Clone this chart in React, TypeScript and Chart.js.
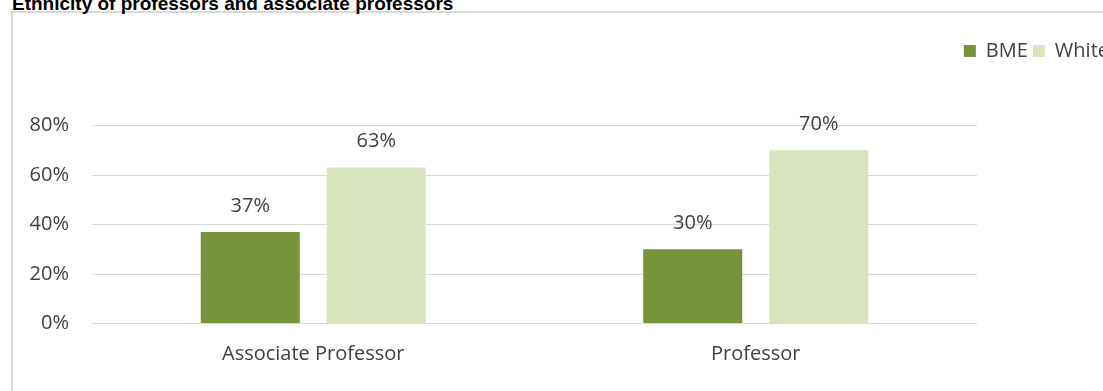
import React, { useEffect, useRef } from "react";
import { Chart, registerables } from "chart.js";

Chart.register(...registerables);

const categories = ["Associate Professor", "Professor"];
const bmeValues = [37, 30];
const whiteValues = [63, 70];
const yTickValues = [0, 20, 40, 60, 80];
const seriesNames = ["BME", "White"];
const titleText = "Ethnicity of professors and associate professors";

const CANVAS_W = 1114;
const CANVAS_H = 391;
const PLOT_LEFT = 92;
const PLOT_RIGHT = 977;
const PLOT_TOP = 125.5;
const PLOT_BOTTOM = 323.5;
const LEGEND_PAD_TOP = 36;
const TEXT_COLOR = "#404040";
const FONT = { family: '"Open Sans", "Noto Sans", sans-serif', size: 20 };

const legendSpacing = {
  id: "legendSpacing",
  beforeLayout(chart: any) {
    const lg = chart.legend;
    if (lg && !lg.__patched) {
      const orig = lg.fit;
      lg.fit = function () {
        orig.call(this);
        this.height = PLOT_TOP - LEGEND_PAD_TOP;
      };
      lg.__patched = true;
    }
  },
};

const dataLabels = {
  id: "dataLabels",
  afterDatasetsDraw(chart: any) {
    const ctx = chart.ctx;
    ctx.save();
    ctx.font = `${FONT.size}px ${FONT.family}`;
    ctx.fillStyle = TEXT_COLOR;
    ctx.textAlign = "center";
    ctx.textBaseline = "middle";
    chart.data.datasets.forEach((ds: any, i: number) => {
      const meta = chart.getDatasetMeta(i);
      meta.data.forEach((el: any, j: number) => {
        ctx.fillText(`${ds.data[j]}%`, el.x, el.y - 26);
      });
    });
    ctx.restore();
  },
};

export default function App() {
  const ref = useRef<HTMLCanvasElement>(null);
  useEffect(() => {
    if (!ref.current) return;
    const chart = new Chart(ref.current, {
      type: "bar",
      data: {
        labels: categories,
        datasets: [
          {
            label: seriesNames[0],
            data: bmeValues,
            backgroundColor: "#77933c",
            categoryPercentage: 0.5695,
            barPercentage: 0.786,
            yAxisID: "y",
          },
          {
            label: seriesNames[1],
            data: whiteValues,
            backgroundColor: "#d7e4bd",
            categoryPercentage: 0.5695,
            barPercentage: 0.786,
            yAxisID: "y",
          },
        ],
      },
      options: {
        responsive: false,
        animation: false,
        devicePixelRatio: 1,
        layout: { padding: { top: LEGEND_PAD_TOP, left: 0, right: 0, bottom: 0 } },
        plugins: {
          legend: {
            position: "top",
            align: "end",
            labels: {
              boxWidth: 12,
              boxHeight: 12,
              padding: 5,
              color: TEXT_COLOR,
              font: FONT,
            },
          },
          tooltip: { enabled: false },
          title: { display: false },
        },
        scales: {
          x: {
            grid: { display: false },
            border: { display: false },
            ticks: { color: TEXT_COLOR, font: FONT, padding: 11 },
            afterFit: (s: any) => {
              s.height = CANVAS_H - PLOT_BOTTOM;
            },
          },
          y: {
            min: 0,
            max: 80,
            afterBuildTicks: (s: any) => {
              s.ticks = yTickValues.map((v) => ({ value: v }));
            },
            ticks: {
              color: TEXT_COLOR,
              font: FONT,
              padding: 23,
              callback: (v: any) => `${v}%`,
            },
            grid: { color: "#d9d9d9", drawTicks: false, lineWidth: 1 },
            border: { display: false },
            afterFit: (s: any) => {
              s.width = PLOT_LEFT;
            },
          },
          yr: {
            position: "right",
            min: 0,
            max: 80,
            grid: { display: false },
            border: { display: false },
            ticks: { display: false },
            afterFit: (s: any) => {
              s.width = CANVAS_W - PLOT_RIGHT;
            },
          },
        },
      },
      plugins: [legendSpacing, dataLabels],
    });
    return () => chart.destroy();
  }, []);

  return (
    <div
      style={{
        position: "fixed",
        left: 0,
        top: 0,
        width: 1103,
        height: 391,
        overflow: "hidden",
        background: "#ffffff",
      }}
    >
      <div
        style={{
          position: "absolute",
          left: 11,
          top: 11,
          width: 1300,
          height: 600,
          border: "2px solid #d9d9d9",
          boxSizing: "border-box",
        }}
      />
      <div
        style={{
          position: "absolute",
          left: 12,
          top: -8,
          fontFamily: '"Liberation Sans", Arial, sans-serif',
          fontWeight: "bold",
          fontSize: 19,
          lineHeight: "24px",
          whiteSpace: "nowrap",
          color: "#000000",
        }}
      >
        {titleText}
      </div>
      <canvas
        ref={ref}
        width={CANVAS_W}
        height={CANVAS_H}
        style={{ position: "absolute", left: 0, top: 0 }}
      />
    </div>
  );
}
